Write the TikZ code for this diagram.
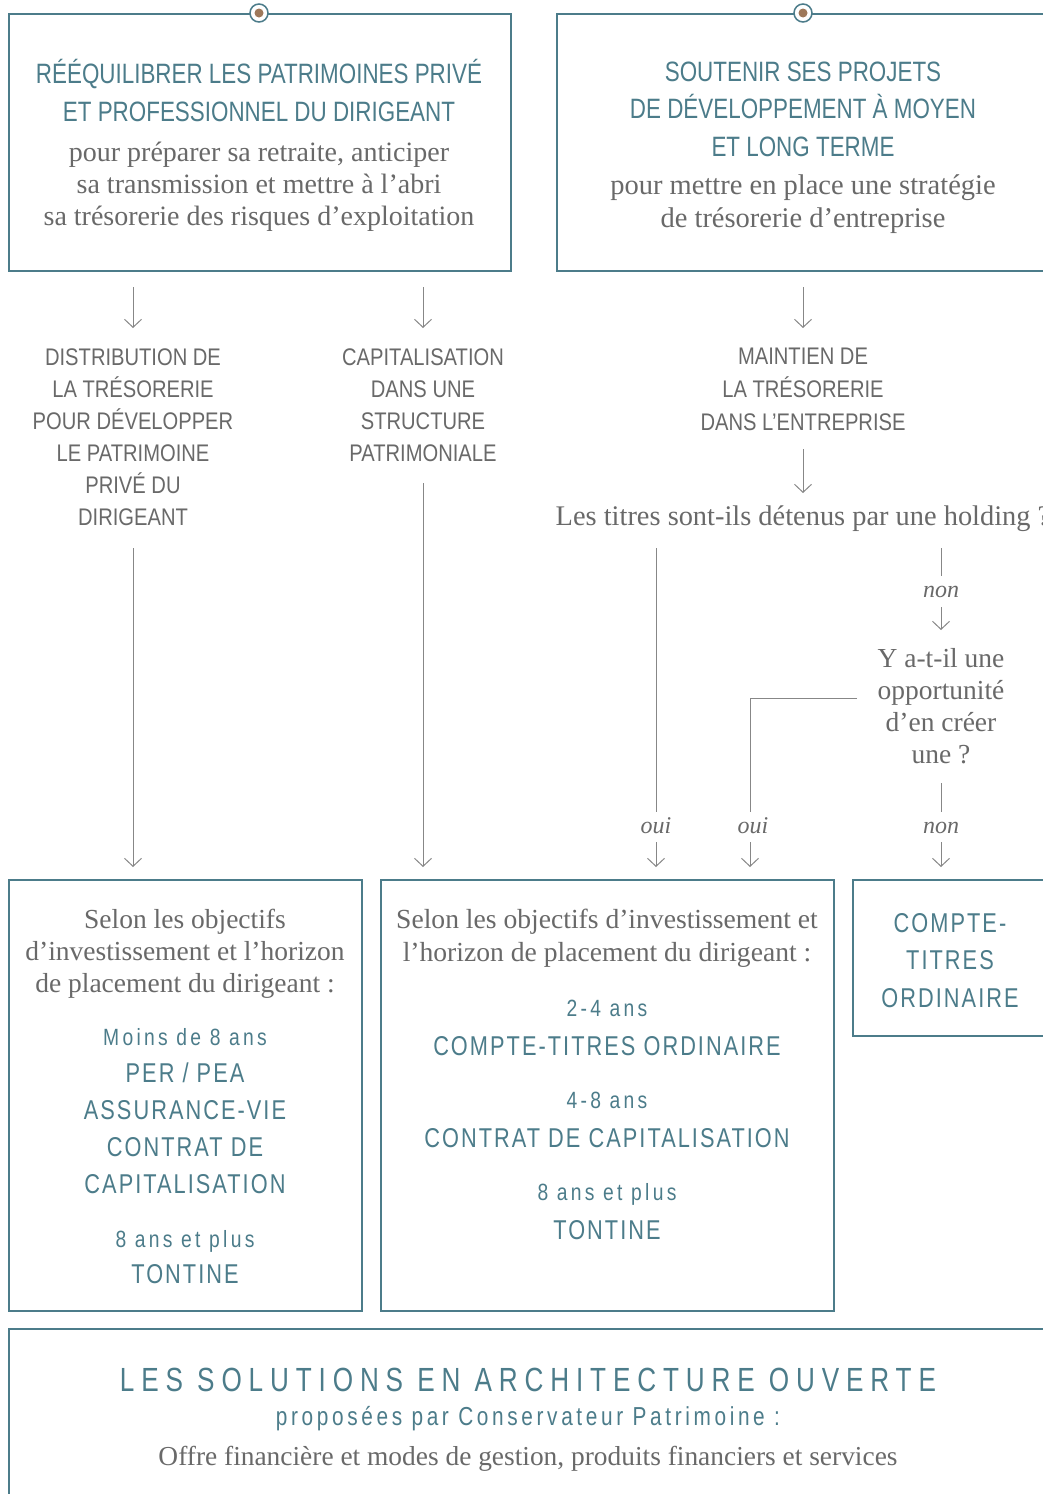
\documentclass[tikz,border=0pt]{standalone}
\usepackage{fontspec}
\setmainfont{Liberation Serif}
\newfontfamily\titlef[FakeStretch=0.8]{Liberation Sans}
\newfontfamily\greyf[FakeStretch=0.84]{Liberation Sans}
\newfontfamily\prodf[FakeStretch=0.8,LetterSpace=7.5]{Liberation Sans}
\newfontfamily\yrsf[FakeStretch=0.82,LetterSpace=14]{Liberation Sans}
\newfontfamily\solf[FakeStretch=0.78,LetterSpace=20.5]{Liberation Sans}
\newfontfamily\propf[FakeStretch=0.8,LetterSpace=14]{Liberation Sans}
\usetikzlibrary{arrows.meta}
\definecolor{teal0}{RGB}{76,124,138}
\definecolor{greyt}{RGB}{105,105,105}
\definecolor{linec}{RGB}{135,135,135}
\definecolor{brownd}{RGB}{158,120,90}
\tikzset{
  box/.style={draw=teal0, line width=1.4pt, inner sep=0pt},
  ring/.style={circle, draw=teal0, line width=1.5pt, fill=white, minimum size=18pt, inner sep=0pt},
  dotc/.style={circle, fill=brownd, minimum size=9pt, inner sep=0pt},
  ttl/.style={anchor=base, inner sep=0pt, align=center, text=teal0, font=\titlef\fontsize{28}{37.5}\selectfont},
  srf/.style={anchor=base, inner sep=0pt, align=center, text=greyt, font=\fontsize{27.5}{32}\selectfont},
  gcap/.style={anchor=base, inner sep=0pt, align=center, text=greyt, font=\greyf\fontsize{24}{32}\selectfont},
  yn/.style={anchor=base, inner sep=0pt, text=greyt, font=\itshape\fontsize{24}{28}\selectfont},
  prod/.style={anchor=base, inner sep=0pt, align=center, text=teal0, font=\prodf\fontsize{27.2}{37}\selectfont},
  yrs/.style={anchor=base, inner sep=0pt, align=center, text=teal0, font=\yrsf\fontsize{23.5}{28}\selectfont},
  sol/.style={anchor=base, inner sep=0pt, text=teal0, font=\solf\fontsize{33.5}{40}\selectfont},
  prop/.style={anchor=base, inner sep=0pt, text=teal0, font=\propf\fontsize{26}{30}\selectfont},
  conn/.style={draw=linec, line width=1pt},
  arr/.style={conn, -{Straight Barb[length=8pt,width=17pt]}}
}
\begin{document}
\begin{tikzpicture}[x=1pt,y=-1pt]
\clip (0,0) rectangle (1043,1494);
\fill[white] (0,0) rectangle (1043,1494);

% boxes
\node[box, minimum width=502pt, minimum height=257pt] (tl) at (260,142.5) {};
\node[box, minimum width=492pt, minimum height=257pt] (tr) at (803,142.5) {};
\node[box, minimum width=353pt, minimum height=431pt] (ba) at (185.5,1095.5) {};
\node[box, minimum width=453pt, minimum height=431pt] (bb) at (607.5,1095.5) {};
\node[box, minimum width=194pt, minimum height=156pt] (bc) at (950,958) {};
\node[box, minimum width=1039pt, minimum height=191pt] (bot) at (528.5,1424.5) {};

% rings
\node[ring] (r1) at (259,13) {};
\node[dotc] (d1) at (r1) {};
\node[ring] (r2) at (803,13) {};
\node[dotc] (d2) at (r2) {};

% top box texts (anchor = baseline of last line)
\node[ttl] (t1) at (259,121) {RÉÉQUILIBRER LES PATRIMOINES PRIVÉ\\ET PROFESSIONNEL DU DIRIGEANT};
\node[srf, font=\fontsize{28}{32}\selectfont] (s1) at (259,225) {pour préparer sa retraite, anticiper\\sa transmission et mettre à l’abri\\sa trésorerie des risques d’exploitation};
\node[ttl] (t2) at (803,156) {SOUTENIR SES PROJETS\\DE DÉVELOPPEMENT À MOYEN\\ET LONG TERME};
\node[srf, font=\fontsize{28.5}{33}\selectfont] (s2) at (803,227) {pour mettre en place une stratégie\\de trésorerie d’entreprise};

% middle texts
\node[gcap] (g1) at (133,525) {DISTRIBUTION DE\\LA TRÉSORERIE\\POUR DÉVELOPPER\\LE PATRIMOINE\\PRIVÉ DU\\DIRIGEANT};
\node[gcap] (g2) at (423,461) {CAPITALISATION\\DANS UNE\\STRUCTURE\\PATRIMONIALE};
\node[gcap, font=\greyf\fontsize{24}{33}\selectfont] (g3) at (803,430) {MAINTIEN DE\\LA TRÉSORERIE\\DANS L’ENTREPRISE};
\node[srf, font=\fontsize{28.4}{32}\selectfont] (q1) at (803,525) {Les titres sont-ils détenus par une holding ?};
\node[srf] (q2) at (941,763) {Y a-t-il une\\opportunité\\d’en créer\\une ?};
\node[yn] (n1) at (941,597) {non};
\node[yn] (o1) at (656,833) {oui};
\node[yn] (o2) at (753,833) {oui};
\node[yn] (n2) at (941,833) {non};

% box A
\node[srf] (sa) at (185,992) {Selon les objectifs\\d’investissement et l’horizon\\de placement du dirigeant :};
\node[yrs] (ya1) at (185,1045) {Moins de 8 ans};
\node[prod] (pa1) at (185,1193) {PER / PEA\\ASSURANCE-VIE\\CONTRAT DE\\CAPITALISATION};
\node[yrs] (ya2) at (185,1247) {8 ans et plus};
\node[prod] (pa2) at (185,1283) {TONTINE};

% box B
\node[srf, font=\fontsize{27.6}{33}\selectfont] (sb) at (607,961) {Selon les objectifs d’investissement et\\l’horizon de placement du dirigeant :};
\node[yrs] (yb1) at (607,1016) {2-4 ans};
\node[prod] (pb1) at (607,1055) {COMPTE-TITRES ORDINAIRE};
\node[yrs] (yb2) at (607,1108) {4-8 ans};
\node[prod] (pb2) at (607,1147) {CONTRAT DE CAPITALISATION};
\node[yrs] (yb3) at (607,1200) {8 ans et plus};
\node[prod] (pb3) at (607,1239) {TONTINE};

% box C
\node[prod, font=\prodf\fontsize{27.2}{37.5}\selectfont] (pc) at (950,1007) {COMPTE-\\TITRES\\ORDINAIRE};

% bottom box
\node[sol] (b1) at (528,1391) {LES SOLUTIONS EN ARCHITECTURE OUVERTE};
\node[prop] (b2) at (528,1425) {proposées par Conservateur Patrimoine :};
\node[srf, font=\fontsize{27.4}{32}\selectfont] (b3) at (528,1465) {Offre financière et modes de gestion, produits financiers et services};

% connector end points
\coordinate (a1s) at (133,287); \coordinate (a1e) at (133,328);
\coordinate (a2s) at (423,287); \coordinate (a2e) at (423,328);
\coordinate (a3s) at (803,287); \coordinate (a3e) at (803,328);
\coordinate (a4s) at (803,449); \coordinate (a4e) at (803,493);
\coordinate (a5s) at (133,548); \coordinate (a5e) at (133,867);
\coordinate (a6s) at (423,483); \coordinate (a6e) at (423,867);
\coordinate (h1s) at (656,548); \coordinate (h1e) at (656,812);
\coordinate (h1as) at (656,842); \coordinate (h1ae) at (656,867);
\coordinate (h2s) at (941,548); \coordinate (h2e) at (941,576);
\coordinate (h2as) at (941,607); \coordinate (h2ae) at (941,630);
\coordinate (y1s) at (857,698); \coordinate (y1k) at (750,698); \coordinate (y1e) at (750,812);
\coordinate (y1as) at (750,842); \coordinate (y1ae) at (750,867);
\coordinate (y2s) at (941,783); \coordinate (y2e) at (941,812);
\coordinate (y2as) at (941,842); \coordinate (y2ae) at (941,867);

\draw[arr] (a1s) -- (a1e);
\draw[arr] (a2s) -- (a2e);
\draw[arr] (a3s) -- (a3e);
\draw[arr] (a4s) -- (a4e);
\draw[arr] (a5s) -- (a5e);
\draw[arr] (a6s) -- (a6e);
\draw[conn] (h1s) -- (h1e);
\draw[arr] (h1as) -- (h1ae);
\draw[conn] (h2s) -- (h2e);
\draw[arr] (h2as) -- (h2ae);
\draw[conn] (y1s) -- (y1k) -- (y1e);
\draw[arr] (y1as) -- (y1ae);
\draw[conn] (y2s) -- (y2e);
\draw[arr] (y2as) -- (y2ae);
\end{tikzpicture}
\end{document}
